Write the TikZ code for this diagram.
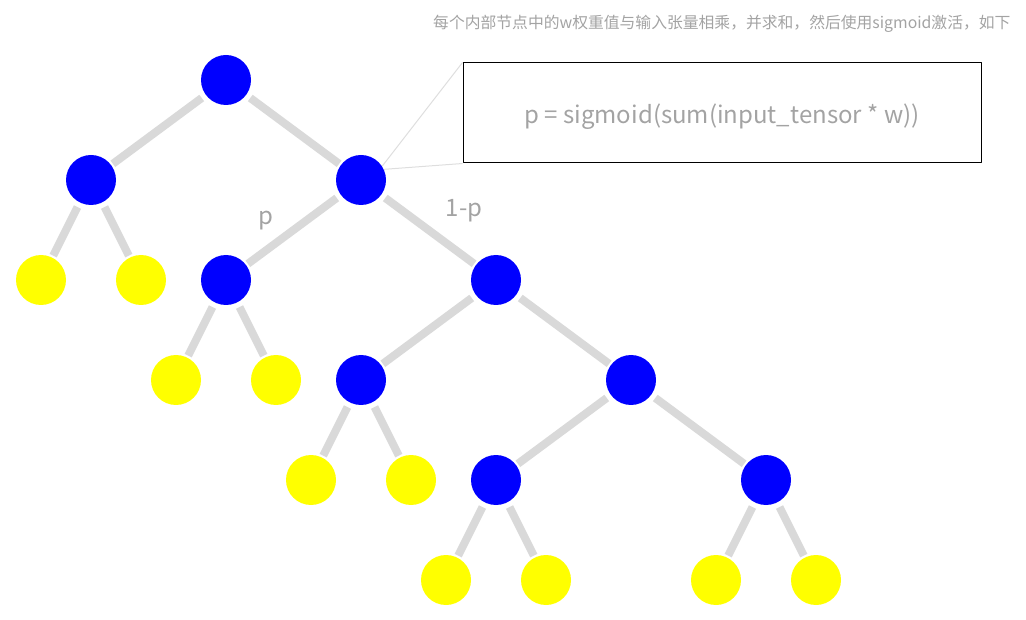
\documentclass[tikz,border=0pt]{standalone}
\usepackage{fontspec}
\setmainfont{Noto Sans CJK SC}
\usepackage{tikz}
\usetikzlibrary{backgrounds}
\definecolor{edgegray}{HTML}{D9D9D9}
\definecolor{txtgray}{HTML}{A3A3A3}
\definecolor{callgray}{HTML}{DEDEDE}
\definecolor{nodeblue}{HTML}{0000FF}
\definecolor{leafyellow}{HTML}{FFFF00}

\begin{document}
\begin{tikzpicture}[line cap=butt,line join=round,x=1pt,y=-1pt,
  inner/.style={circle,fill=nodeblue,inner sep=0pt,minimum size=50pt},
  leaf/.style={circle,fill=leafyellow,inner sep=0pt,minimum size=50pt},
  edge/.style={edgegray,line width=8pt,shorten <=5pt,shorten >=2pt},
  lbl/.style={text=txtgray,font=\fontsize{24}{28}\selectfont}]
\useasboundingbox (0,0) rectangle (1026,620);
% tree nodes
\node[inner] (r) at (226,80) {};
\node[inner] (a) at (91,180) {};
\node[inner] (b) at (361,180) {};
\node[leaf] (a1) at (41,280) {};
\node[leaf] (a2) at (141,280) {};
\node[inner] (b1) at (226,280) {};
\node[inner] (b2) at (496,280) {};
\node[leaf] (b1l) at (176,380) {};
\node[leaf] (b1r) at (276,380) {};
\node[inner] (c1) at (361,380) {};
\node[inner] (c2) at (631,380) {};
\node[leaf] (c1l) at (311,480) {};
\node[leaf] (c1r) at (411,480) {};
\node[inner] (d1) at (496,480) {};
\node[inner] (d2) at (766,480) {};
\node[leaf] (d1l) at (446,580) {};
\node[leaf] (d1r) at (546,580) {};
\node[leaf] (d2l) at (716,580) {};
\node[leaf] (d2r) at (816,580) {};
% edges
\begin{scope}[on background layer]
\draw[edge] (r) -- (a);
\draw[edge] (r) -- (b);
\draw[edge] (a) -- (a1);
\draw[edge] (a) -- (a2);
\draw[edge] (b) -- (b1);
\draw[edge] (b) -- (b2);
\draw[edge] (b1) -- (b1l);
\draw[edge] (b1) -- (b1r);
\draw[edge] (b2) -- (c1);
\draw[edge] (b2) -- (c2);
\draw[edge] (c1) -- (c1l);
\draw[edge] (c1) -- (c1r);
\draw[edge] (c2) -- (d1);
\draw[edge] (c2) -- (d2);
\draw[edge] (d1) -- (d1l);
\draw[edge] (d1) -- (d1r);
\draw[edge] (d2) -- (d2l);
\draw[edge] (d2) -- (d2r);
\end{scope}
% branch labels
\node[lbl] (lp) at (266,221) {p};
\node[lbl] (lq) at (464,211) {1-p};
% formula box
\node[draw=black,line width=1pt,minimum width=518pt,minimum height=100pt] (box) at (722,113) {};
\node[lbl] (form) at (722,117) {p = sigmoid(sum(input\_tensor * w))};
\draw[callgray,line width=1pt] (b.33) -- (box.north west);
\draw[callgray,line width=1pt] (b.25) -- (box.south west);
% caption
\node[text=txtgray,anchor=east,font=\fontsize{15.8}{18}\selectfont] (cap) at (1014,24) {每个内部节点中的w权重值与输入张量相乘，并求和，然后使用sigmoid激活，如下};
\end{tikzpicture}
\end{document}
